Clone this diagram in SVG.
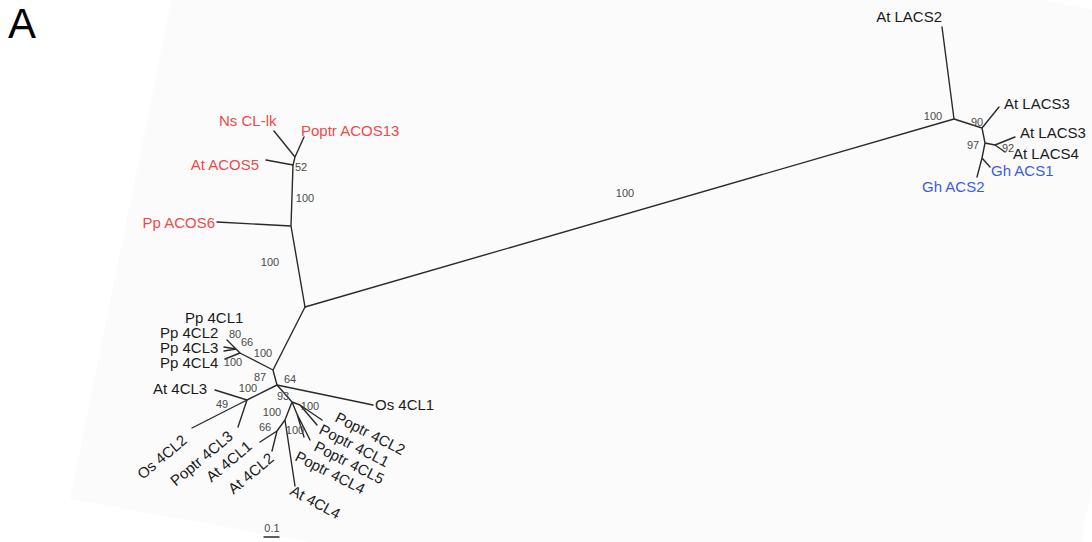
<svg xmlns="http://www.w3.org/2000/svg" width="1092" height="542" viewBox="0 0 1092 542">
<style>
.br{stroke:#2a2a2a;stroke-width:1.4;fill:none;stroke-linecap:round;stroke-linejoin:round}
.lb{font-family:"Liberation Sans",Arial,sans-serif;font-size:15px;fill:#1a1a1a}
.red{fill:#ef4a4a}
.blue{fill:#3a5be6}
.bs{font-family:"Liberation Sans",Arial,sans-serif;font-size:11px;fill:#4a4a4a;text-anchor:middle;dominant-baseline:central}
</style>
<rect width="1092" height="542" fill="#ffffff"/>
<polygon points="202,-151 1186,26 1054,676 70,499" fill="#fbfbfb"/>
<text x="8" y="38" font-family="Liberation Sans, Arial, sans-serif" font-size="42" fill="#000">A</text>
<g id="connectors">
<path class="br" d="M305,307 L954,119"/>
<path class="br" d="M305,307 L291,226 M291,226 L217,222 M291,226 L293,165 M293,165 L266,160 M293,165 L295,157 M295,157 L274,131 M295,157 L304,137"/>
<path class="br" d="M954,119 L942,27 M954,119 L982,128 M982,128 L999,107 M982,128 L985,143 M985,143 L995,145 M995,145 L1015,137 M995,145 L1005,152 M985,143 L982,158 M982,158 L990,167 M982,158 L977,177"/>
<path class="br" d="M305,307 L273,370 M273,370 L240,353 M240,353 L236,349 M236,349 L227,340 M236,349 L224,347 M236,349 L224,351 M240,353 L225,359 M273,370 L277,385"/>
<path class="br" d="M277,385 L247,400 M247,400 L215,390 M247,400 L192,428 M247,400 L238,427 M277,385 L373,405 M277,385 L292,402 M292,402 L300,405 M300,405 L322,420 M300,405 L317,425 M292,402 L297,414 M297,414 L310,440 M297,414 L304,437 M292,402 L285,420 M285,420 L295,486 M285,420 L277,431 M277,431 L260,442 M277,431 L272,451"/>
<path class="br" d="M264,537 L279,537" stroke-width="1.2"/>
</g>
<g id="n-ppacos6"><text class="lb red" x="215" y="228" text-anchor="end">Pp ACOS6</text></g>
<g id="n-atacos5"><text class="lb red" x="259" y="170" text-anchor="end">At ACOS5</text></g>
<g id="n-nsclk"><text class="lb red" x="219" y="126">Ns CL-lk</text></g>
<g id="n-poptracos13"><text class="lb red" x="301" y="136">Poptr ACOS13</text></g>
<g id="n-atlacs2"><text class="lb" x="942" y="22" text-anchor="end">At LACS2</text></g>
<g id="n-atlacs3a"><text class="lb" x="1004" y="109">At LACS3</text></g>
<g id="n-atlacs3b"><text class="lb" x="1020" y="138">At LACS3</text></g>
<g id="n-atlacs4"><text class="lb" x="1013" y="159">At LACS4</text></g>
<g id="n-ghacs1"><text class="lb blue" x="991" y="176">Gh ACS1</text></g>
<g id="n-ghacs2"><text class="lb blue" x="922" y="192">Gh ACS2</text></g>
<g id="n-pp4cl1"><text class="lb" x="185" y="323">Pp 4CL1</text></g>
<g id="n-pp4cl2"><text class="lb" x="160" y="338">Pp 4CL2</text></g>
<g id="n-pp4cl3"><text class="lb" x="160" y="353">Pp 4CL3</text></g>
<g id="n-pp4cl4"><text class="lb" x="160" y="368">Pp 4CL4</text></g>
<g id="n-at4cl3"><text class="lb" x="153" y="394">At 4CL3</text></g>
<g id="n-os4cl1"><text class="lb" x="375" y="410">Os 4CL1</text></g>
<g id="n-os4cl2"><text class="lb" text-anchor="end" transform="translate(188,442) rotate(-40)">Os 4CL2</text></g>
<g id="n-poptr4cl3"><text class="lb" text-anchor="end" transform="translate(234,438) rotate(-40)">Poptr 4CL3</text></g>
<g id="n-at4cl1"><text class="lb" text-anchor="end" transform="translate(253,448) rotate(-40)">At 4CL1</text></g>
<g id="n-at4cl2"><text class="lb" text-anchor="end" transform="translate(275,460) rotate(-40)">At 4CL2</text></g>
<g id="n-poptr4cl2"><text class="lb" transform="translate(334,421) rotate(27)">Poptr 4CL2</text></g>
<g id="n-poptr4cl1"><text class="lb" transform="translate(318,433) rotate(27)">Poptr 4CL1</text></g>
<g id="n-poptr4cl5"><text class="lb" transform="translate(313,450) rotate(27)">Poptr 4CL5</text></g>
<g id="n-poptr4cl4"><text class="lb" transform="translate(294,460) rotate(27)">Poptr 4CL4</text></g>
<g id="n-at4cl4"><text class="lb" transform="translate(289,494) rotate(28)">At 4CL4</text></g>
<g id="bootstrap">
<text class="bs" x="625" y="193">100</text>
<text class="bs" x="270" y="262">100</text>
<text class="bs" x="305" y="198">100</text>
<text class="bs" x="301" y="167">52</text>
<text class="bs" x="933" y="116">100</text>
<text class="bs" x="977" y="122">90</text>
<text class="bs" x="973" y="145">97</text>
<text class="bs" x="1008" y="148">92</text>
<text class="bs" x="235" y="334">80</text>
<text class="bs" x="247" y="342">66</text>
<text class="bs" x="263" y="353">100</text>
<text class="bs" x="233" y="362">100</text>
<text class="bs" x="260" y="377">87</text>
<text class="bs" x="290" y="379">64</text>
<text class="bs" x="248" y="388">100</text>
<text class="bs" x="222" y="404">49</text>
<text class="bs" x="283" y="396">93</text>
<text class="bs" x="310" y="406">100</text>
<text class="bs" x="272" y="412">100</text>
<text class="bs" x="265" y="427">66</text>
<text class="bs" x="295" y="430">100</text>
<text class="bs" x="272" y="528">0.1</text>
</g>
</svg>
